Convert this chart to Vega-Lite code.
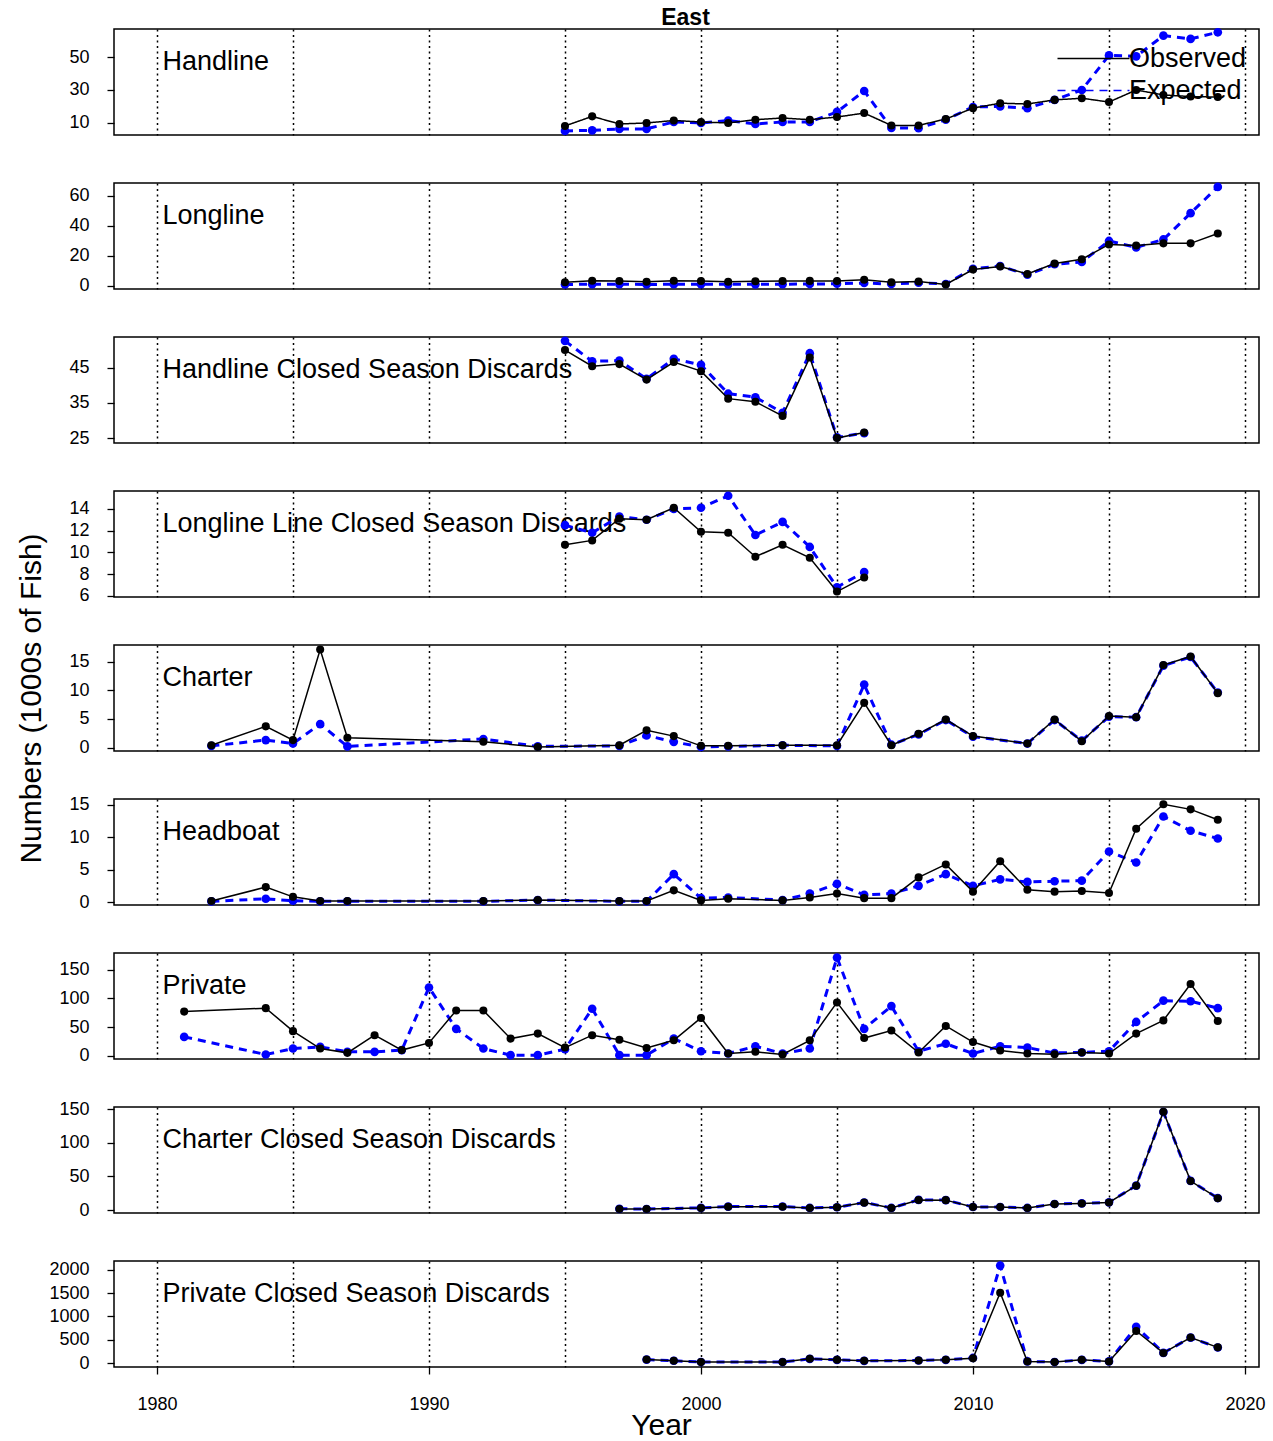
{
  "$schema": "https://vega.github.io/schema/vega-lite/v6.json",
  "background": "white",
  "padding": {"left": 15, "top": 6, "right": 5, "bottom": 5},
  "title": {"text": "East", "fontSize": 23, "fontWeight": "bold", "anchor": "middle", "dx": 45, "offset": -4, "color": "black"},
  "spacing": 48,
  "bounds": "flush",
  "resolve": {"scale": {"color": "independent", "strokeDash": "independent"}, "legend": {"color": "independent", "strokeDash": "independent"}},
  "data": {"values": [
    {"p": "Handline", "year": 1995, "Observed": 8.2, "Expected": 5.2},
    {"p": "Handline", "year": 1996, "Observed": 14, "Expected": 5.5},
    {"p": "Handline", "year": 1997, "Observed": 9.4, "Expected": 6.4},
    {"p": "Handline", "year": 1998, "Observed": 10, "Expected": 6.4},
    {"p": "Handline", "year": 1999, "Observed": 11.5, "Expected": 10.6},
    {"p": "Handline", "year": 2000, "Observed": 10.6, "Expected": 10},
    {"p": "Handline", "year": 2001, "Observed": 10, "Expected": 11.5},
    {"p": "Handline", "year": 2002, "Observed": 12, "Expected": 9.4},
    {"p": "Handline", "year": 2003, "Observed": 13, "Expected": 10.6},
    {"p": "Handline", "year": 2004, "Observed": 12, "Expected": 10.6},
    {"p": "Handline", "year": 2005, "Observed": 13.6, "Expected": 16.7},
    {"p": "Handline", "year": 2006, "Observed": 16, "Expected": 29.4},
    {"p": "Handline", "year": 2007, "Observed": 8.5, "Expected": 7},
    {"p": "Handline", "year": 2008, "Observed": 8.5, "Expected": 6.8},
    {"p": "Handline", "year": 2009, "Observed": 12.4, "Expected": 12},
    {"p": "Handline", "year": 2010, "Observed": 19, "Expected": 19.7},
    {"p": "Handline", "year": 2011, "Observed": 22, "Expected": 20},
    {"p": "Handline", "year": 2012, "Observed": 21.5, "Expected": 19},
    {"p": "Handline", "year": 2013, "Observed": 24, "Expected": 24},
    {"p": "Handline", "year": 2014, "Observed": 25, "Expected": 30},
    {"p": "Handline", "year": 2015, "Observed": 22.7, "Expected": 51},
    {"p": "Handline", "year": 2016, "Observed": 30, "Expected": 50.4},
    {"p": "Handline", "year": 2017, "Observed": 27, "Expected": 63},
    {"p": "Handline", "year": 2018, "Observed": 26, "Expected": 61},
    {"p": "Handline", "year": 2019, "Observed": 25.7, "Expected": 65},

    {"p": "Longline", "year": 1995, "Observed": 2.5, "Expected": 1.0},
    {"p": "Longline", "year": 1996, "Observed": 3.5, "Expected": 1.2},
    {"p": "Longline", "year": 1997, "Observed": 3.3, "Expected": 1.2},
    {"p": "Longline", "year": 1998, "Observed": 2.8, "Expected": 1.0},
    {"p": "Longline", "year": 1999, "Observed": 3.5, "Expected": 1.2},
    {"p": "Longline", "year": 2000, "Observed": 3.3, "Expected": 1.2},
    {"p": "Longline", "year": 2001, "Observed": 2.8, "Expected": 1.1},
    {"p": "Longline", "year": 2002, "Observed": 3.2, "Expected": 1.1},
    {"p": "Longline", "year": 2003, "Observed": 3.3, "Expected": 1.2},
    {"p": "Longline", "year": 2004, "Observed": 3.4, "Expected": 1.3},
    {"p": "Longline", "year": 2005, "Observed": 3.3, "Expected": 1.5},
    {"p": "Longline", "year": 2006, "Observed": 4.2, "Expected": 2.0},
    {"p": "Longline", "year": 2007, "Observed": 2.5, "Expected": 1.3},
    {"p": "Longline", "year": 2008, "Observed": 3.0, "Expected": 2.2},
    {"p": "Longline", "year": 2009, "Observed": 1.0, "Expected": 1.3},
    {"p": "Longline", "year": 2010, "Observed": 11, "Expected": 11.5},
    {"p": "Longline", "year": 2011, "Observed": 13, "Expected": 13.3},
    {"p": "Longline", "year": 2012, "Observed": 8, "Expected": 7.5},
    {"p": "Longline", "year": 2013, "Observed": 15, "Expected": 14.5},
    {"p": "Longline", "year": 2014, "Observed": 17.8, "Expected": 16},
    {"p": "Longline", "year": 2015, "Observed": 27.7, "Expected": 30},
    {"p": "Longline", "year": 2016, "Observed": 27, "Expected": 25.7},
    {"p": "Longline", "year": 2017, "Observed": 28.4, "Expected": 31},
    {"p": "Longline", "year": 2018, "Observed": 28.4, "Expected": 48.5},
    {"p": "Longline", "year": 2019, "Observed": 35, "Expected": 66},

    {"p": "HCSD", "year": 1995, "Observed": 50, "Expected": 52.6},
    {"p": "HCSD", "year": 1996, "Observed": 45.4, "Expected": 46.8},
    {"p": "HCSD", "year": 1997, "Observed": 46, "Expected": 47},
    {"p": "HCSD", "year": 1998, "Observed": 41.6, "Expected": 41.8},
    {"p": "HCSD", "year": 1999, "Observed": 46.6, "Expected": 47.5},
    {"p": "HCSD", "year": 2000, "Observed": 44, "Expected": 45.8},
    {"p": "HCSD", "year": 2001, "Observed": 36.2, "Expected": 37.6},
    {"p": "HCSD", "year": 2002, "Observed": 35.3, "Expected": 36.6},
    {"p": "HCSD", "year": 2003, "Observed": 31.3, "Expected": 32.2},
    {"p": "HCSD", "year": 2004, "Observed": 47.9, "Expected": 49.1},
    {"p": "HCSD", "year": 2005, "Observed": 25, "Expected": 25.2},
    {"p": "HCSD", "year": 2006, "Observed": 26.6, "Expected": 26.4},

    {"p": "LCSD", "year": 1995, "Observed": 10.7, "Expected": 12.5},
    {"p": "LCSD", "year": 1996, "Observed": 11.1, "Expected": 11.8},
    {"p": "LCSD", "year": 1997, "Observed": 13.1, "Expected": 13.3},
    {"p": "LCSD", "year": 1998, "Observed": 13.0, "Expected": 13.0},
    {"p": "LCSD", "year": 1999, "Observed": 14.1, "Expected": 14.0},
    {"p": "LCSD", "year": 2000, "Observed": 11.9, "Expected": 14.1},
    {"p": "LCSD", "year": 2001, "Observed": 11.8, "Expected": 15.2},
    {"p": "LCSD", "year": 2002, "Observed": 9.6, "Expected": 11.6},
    {"p": "LCSD", "year": 2003, "Observed": 10.7, "Expected": 12.8},
    {"p": "LCSD", "year": 2004, "Observed": 9.5, "Expected": 10.5},
    {"p": "LCSD", "year": 2005, "Observed": 6.4, "Expected": 6.8},
    {"p": "LCSD", "year": 2006, "Observed": 7.7, "Expected": 8.2},

    {"p": "Charter", "year": 1982, "Observed": 0.4, "Expected": 0.3},
    {"p": "Charter", "year": 1984, "Observed": 3.7, "Expected": 1.3},
    {"p": "Charter", "year": 1985, "Observed": 1.3, "Expected": 0.7},
    {"p": "Charter", "year": 1986, "Observed": 17.1, "Expected": 4.1},
    {"p": "Charter", "year": 1987, "Observed": 1.7, "Expected": 0.2},
    {"p": "Charter", "year": 1992, "Observed": 1.0, "Expected": 1.5},
    {"p": "Charter", "year": 1994, "Observed": 0.1, "Expected": 0.2},
    {"p": "Charter", "year": 1997, "Observed": 0.4, "Expected": 0.3},
    {"p": "Charter", "year": 1998, "Observed": 3.0, "Expected": 2.1},
    {"p": "Charter", "year": 1999, "Observed": 2.0, "Expected": 1.0},
    {"p": "Charter", "year": 2000, "Observed": 0.3, "Expected": 0.1},
    {"p": "Charter", "year": 2001, "Observed": 0.3, "Expected": 0.2},
    {"p": "Charter", "year": 2003, "Observed": 0.4, "Expected": 0.4},
    {"p": "Charter", "year": 2005, "Observed": 0.4, "Expected": 0.3},
    {"p": "Charter", "year": 2006, "Observed": 7.8, "Expected": 11.0},
    {"p": "Charter", "year": 2007, "Observed": 0.4, "Expected": 0.5},
    {"p": "Charter", "year": 2008, "Observed": 2.4, "Expected": 2.3},
    {"p": "Charter", "year": 2009, "Observed": 4.9, "Expected": 4.8},
    {"p": "Charter", "year": 2010, "Observed": 2.0, "Expected": 1.9},
    {"p": "Charter", "year": 2012, "Observed": 0.7, "Expected": 0.7},
    {"p": "Charter", "year": 2013, "Observed": 4.9, "Expected": 4.8},
    {"p": "Charter", "year": 2014, "Observed": 1.1, "Expected": 1.2},
    {"p": "Charter", "year": 2015, "Observed": 5.5, "Expected": 5.4},
    {"p": "Charter", "year": 2016, "Observed": 5.3, "Expected": 5.3},
    {"p": "Charter", "year": 2017, "Observed": 14.4, "Expected": 14.3},
    {"p": "Charter", "year": 2018, "Observed": 15.9, "Expected": 15.8},
    {"p": "Charter", "year": 2019, "Observed": 9.5, "Expected": 9.6},

    {"p": "Headboat", "year": 1982, "Observed": 0.15, "Expected": 0.1},
    {"p": "Headboat", "year": 1984, "Observed": 2.3, "Expected": 0.5},
    {"p": "Headboat", "year": 1985, "Observed": 0.8, "Expected": 0.2},
    {"p": "Headboat", "year": 1986, "Observed": 0.15, "Expected": 0.1},
    {"p": "Headboat", "year": 1987, "Observed": 0.15, "Expected": 0.1},
    {"p": "Headboat", "year": 1992, "Observed": 0.15, "Expected": 0.1},
    {"p": "Headboat", "year": 1994, "Observed": 0.3, "Expected": 0.3},
    {"p": "Headboat", "year": 1997, "Observed": 0.15, "Expected": 0.1},
    {"p": "Headboat", "year": 1998, "Observed": 0.15, "Expected": 0.1},
    {"p": "Headboat", "year": 1999, "Observed": 1.8, "Expected": 4.3},
    {"p": "Headboat", "year": 2000, "Observed": 0.25, "Expected": 0.6},
    {"p": "Headboat", "year": 2001, "Observed": 0.5, "Expected": 0.7},
    {"p": "Headboat", "year": 2003, "Observed": 0.25, "Expected": 0.3},
    {"p": "Headboat", "year": 2004, "Observed": 0.7, "Expected": 1.3},
    {"p": "Headboat", "year": 2005, "Observed": 1.3, "Expected": 2.8},
    {"p": "Headboat", "year": 2006, "Observed": 0.6, "Expected": 1.1},
    {"p": "Headboat", "year": 2007, "Observed": 0.6, "Expected": 1.3},
    {"p": "Headboat", "year": 2008, "Observed": 3.8, "Expected": 2.5},
    {"p": "Headboat", "year": 2009, "Observed": 5.8, "Expected": 4.3},
    {"p": "Headboat", "year": 2010, "Observed": 1.6, "Expected": 2.5},
    {"p": "Headboat", "year": 2011, "Observed": 6.3, "Expected": 3.5},
    {"p": "Headboat", "year": 2012, "Observed": 1.9, "Expected": 3.1},
    {"p": "Headboat", "year": 2013, "Observed": 1.6, "Expected": 3.2},
    {"p": "Headboat", "year": 2014, "Observed": 1.7, "Expected": 3.3},
    {"p": "Headboat", "year": 2015, "Observed": 1.4, "Expected": 7.8},
    {"p": "Headboat", "year": 2016, "Observed": 11.3, "Expected": 6.1},
    {"p": "Headboat", "year": 2017, "Observed": 15.1, "Expected": 13.2},
    {"p": "Headboat", "year": 2018, "Observed": 14.3, "Expected": 11.0},
    {"p": "Headboat", "year": 2019, "Observed": 12.7, "Expected": 9.8},

    {"p": "Private", "year": 1981, "Observed": 77, "Expected": 33},
    {"p": "Private", "year": 1984, "Observed": 83, "Expected": 2.3},
    {"p": "Private", "year": 1985, "Observed": 43, "Expected": 12.7},
    {"p": "Private", "year": 1986, "Observed": 12.7, "Expected": 15.6},
    {"p": "Private", "year": 1987, "Observed": 5.2, "Expected": 7},
    {"p": "Private", "year": 1988, "Observed": 36, "Expected": 7},
    {"p": "Private", "year": 1989, "Observed": 10, "Expected": 10},
    {"p": "Private", "year": 1990, "Observed": 22.5, "Expected": 119},
    {"p": "Private", "year": 1991, "Observed": 79, "Expected": 47},
    {"p": "Private", "year": 1992, "Observed": 79, "Expected": 12.7},
    {"p": "Private", "year": 1993, "Observed": 30, "Expected": 1.2},
    {"p": "Private", "year": 1994, "Observed": 38.7, "Expected": 1.2},
    {"p": "Private", "year": 1995, "Observed": 14.4, "Expected": 11.5},
    {"p": "Private", "year": 1996, "Observed": 36, "Expected": 82},
    {"p": "Private", "year": 1997, "Observed": 28, "Expected": 1.2},
    {"p": "Private", "year": 1998, "Observed": 13.8, "Expected": 1.2},
    {"p": "Private", "year": 1999, "Observed": 27, "Expected": 30},
    {"p": "Private", "year": 2000, "Observed": 66, "Expected": 8},
    {"p": "Private", "year": 2001, "Observed": 4, "Expected": 4},
    {"p": "Private", "year": 2002, "Observed": 7, "Expected": 16.7},
    {"p": "Private", "year": 2003, "Observed": 2.3, "Expected": 4},
    {"p": "Private", "year": 2004, "Observed": 27, "Expected": 12.7},
    {"p": "Private", "year": 2005, "Observed": 93, "Expected": 171},
    {"p": "Private", "year": 2006, "Observed": 31, "Expected": 47},
    {"p": "Private", "year": 2007, "Observed": 44, "Expected": 86.6},
    {"p": "Private", "year": 2008, "Observed": 5.8, "Expected": 8},
    {"p": "Private", "year": 2009, "Observed": 52, "Expected": 21},
    {"p": "Private", "year": 2010, "Observed": 24, "Expected": 4},
    {"p": "Private", "year": 2011, "Observed": 9.2, "Expected": 16.7},
    {"p": "Private", "year": 2012, "Observed": 4, "Expected": 14.4},
    {"p": "Private", "year": 2013, "Observed": 2.9, "Expected": 5},
    {"p": "Private", "year": 2014, "Observed": 5.8, "Expected": 6},
    {"p": "Private", "year": 2015, "Observed": 4, "Expected": 8},
    {"p": "Private", "year": 2016, "Observed": 38.7, "Expected": 59},
    {"p": "Private", "year": 2017, "Observed": 61.7, "Expected": 96},
    {"p": "Private", "year": 2018, "Observed": 125, "Expected": 95},
    {"p": "Private", "year": 2019, "Observed": 60.6, "Expected": 83},

    {"p": "CCSD", "year": 1997, "Observed": 1.5, "Expected": 1.8},
    {"p": "CCSD", "year": 1998, "Observed": 1.5, "Expected": 1.6},
    {"p": "CCSD", "year": 2000, "Observed": 3, "Expected": 3.2},
    {"p": "CCSD", "year": 2001, "Observed": 5, "Expected": 5.1},
    {"p": "CCSD", "year": 2003, "Observed": 5, "Expected": 5.2},
    {"p": "CCSD", "year": 2004, "Observed": 3, "Expected": 3.1},
    {"p": "CCSD", "year": 2005, "Observed": 4, "Expected": 4.1},
    {"p": "CCSD", "year": 2006, "Observed": 11, "Expected": 11.2},
    {"p": "CCSD", "year": 2007, "Observed": 3, "Expected": 3.1},
    {"p": "CCSD", "year": 2008, "Observed": 15, "Expected": 15.1},
    {"p": "CCSD", "year": 2009, "Observed": 14.7, "Expected": 14.8},
    {"p": "CCSD", "year": 2010, "Observed": 4.4, "Expected": 4.5},
    {"p": "CCSD", "year": 2011, "Observed": 4.4, "Expected": 4.5},
    {"p": "CCSD", "year": 2012, "Observed": 3, "Expected": 3.1},
    {"p": "CCSD", "year": 2013, "Observed": 8.8, "Expected": 8.9},
    {"p": "CCSD", "year": 2014, "Observed": 9.8, "Expected": 9.9},
    {"p": "CCSD", "year": 2015, "Observed": 11.3, "Expected": 11.4},
    {"p": "CCSD", "year": 2016, "Observed": 36, "Expected": 36.3},
    {"p": "CCSD", "year": 2017, "Observed": 146, "Expected": 145.5},
    {"p": "CCSD", "year": 2018, "Observed": 43, "Expected": 43.3},
    {"p": "CCSD", "year": 2019, "Observed": 17.6, "Expected": 17.8},

    {"p": "PCSD", "year": 1998, "Observed": 77, "Expected": 75},
    {"p": "PCSD", "year": 1999, "Observed": 49, "Expected": 50},
    {"p": "PCSD", "year": 2000, "Observed": 21, "Expected": 22},
    {"p": "PCSD", "year": 2003, "Observed": 21, "Expected": 22},
    {"p": "PCSD", "year": 2004, "Observed": 91, "Expected": 90},
    {"p": "PCSD", "year": 2005, "Observed": 70, "Expected": 70},
    {"p": "PCSD", "year": 2006, "Observed": 49, "Expected": 48},
    {"p": "PCSD", "year": 2008, "Observed": 56, "Expected": 55},
    {"p": "PCSD", "year": 2009, "Observed": 70, "Expected": 70},
    {"p": "PCSD", "year": 2010, "Observed": 105, "Expected": 110},
    {"p": "PCSD", "year": 2011, "Observed": 1510, "Expected": 2090},
    {"p": "PCSD", "year": 2012, "Observed": 35, "Expected": 36},
    {"p": "PCSD", "year": 2013, "Observed": 21, "Expected": 22},
    {"p": "PCSD", "year": 2014, "Observed": 70, "Expected": 68},
    {"p": "PCSD", "year": 2015, "Observed": 35, "Expected": 36},
    {"p": "PCSD", "year": 2016, "Observed": 688, "Expected": 780},
    {"p": "PCSD", "year": 2017, "Observed": 218, "Expected": 220},
    {"p": "PCSD", "year": 2018, "Observed": 548, "Expected": 545},
    {"p": "PCSD", "year": 2019, "Observed": 337, "Expected": 335}
  ]},
  "vconcat": [
    {
      "width": 1145, "height": 106,
      "transform": [{"filter": "datum.p === 'Handline'"}, {"fold": ["Expected", "Observed"], "as": ["series", "value"]}],
      "encoding": {
        "x": {"field": "year", "type": "quantitative", "scale": {"domain": [1978.42, 2020.515], "nice": false, "zero": false},
              "axis": {"values": [1980, 1985, 1990, 1995, 2000, 2005, 2010, 2015, 2020], "grid": true, "gridDash": [2, 3.5], "gridColor": "black", "gridWidth": 1.5, "ticks": false, "labels": false, "domain": false, "title": null}},
        "y": {"field": "value", "type": "quantitative", "scale": {"domain": [2.7, 67], "nice": false, "zero": false},
              "axis": {"values": [10, 30, 50], "title": "Handline"}},
        "color": {"field": "series", "type": "nominal", "scale": {"domain": ["Observed", "Expected"], "range": ["black", "#0000ff"]},
                  "legend": {"orient": "none", "legendX": 990, "legendY": 16, "title": null, "labelFontSize": 27, "labelColor": "black", "symbolType": "M-5,0H1", "symbolSize": 576, "symbolStrokeWidth": 1.5, "rowPadding": 4, "labelOffset": -2, "padding": 0}}
      },
      "layer": [
        {"transform": [{"filter": "datum.series === 'Expected'"}], "mark": {"type": "line", "strokeWidth": 3},
         "encoding": {"strokeDash": {"field": "series", "type": "nominal", "scale": {"domain": ["Observed", "Expected"], "range": [[1, 0], [8, 6]]}, "legend": {"orient": "none", "legendX": 990, "legendY": 16, "title": null, "labelFontSize": 27, "labelColor": "black", "symbolType": "M-5,0H1", "symbolSize": 576, "symbolStrokeWidth": 1.5, "rowPadding": 4, "labelOffset": -2, "padding": 0}}}},
        {"transform": [{"filter": "datum.series === 'Expected'"}], "mark": {"type": "point", "filled": true, "size": 75, "opacity": 1}},
        {"transform": [{"filter": "datum.series === 'Observed'"}], "mark": {"type": "line", "strokeWidth": 1.5},
         "encoding": {"strokeDash": {"field": "series", "type": "nominal", "scale": {"domain": ["Observed", "Expected"], "range": [[1, 0], [8, 6]]}, "legend": {"orient": "none", "legendX": 990, "legendY": 16, "title": null, "labelFontSize": 27, "labelColor": "black", "symbolType": "M-5,0H1", "symbolSize": 576, "symbolStrokeWidth": 1.5, "rowPadding": 4, "labelOffset": -2, "padding": 0}}}},
        {"transform": [{"filter": "datum.series === 'Observed'"}], "mark": {"type": "point", "filled": true, "size": 65, "opacity": 1}}
      ]
    },
    {
      "width": 1145, "height": 106,
      "transform": [{"filter": "datum.p === 'Longline'"}, {"fold": ["Expected", "Observed"], "as": ["series", "value"]}],
      "encoding": {
        "x": {"field": "year", "type": "quantitative", "scale": {"domain": [1978.42, 2020.515], "nice": false, "zero": false},
              "axis": {"values": [1980, 1985, 1990, 1995, 2000, 2005, 2010, 2015, 2020], "grid": true, "gridDash": [2, 3.5], "gridColor": "black", "gridWidth": 1.5, "ticks": false, "labels": false, "domain": false, "title": null}},
        "y": {"field": "value", "type": "quantitative", "scale": {"domain": [-2, 68.6], "nice": false, "zero": false},
              "axis": {"values": [0, 20, 40, 60], "title": "Longline"}},
        "color": {"field": "series", "type": "nominal", "scale": {"domain": ["Observed", "Expected"], "range": ["black", "#0000ff"]}, "legend": null}
      },
      "layer": [
        {"transform": [{"filter": "datum.series === 'Expected'"}], "mark": {"type": "line", "strokeWidth": 3, "strokeDash": [8, 6]}},
        {"transform": [{"filter": "datum.series === 'Expected'"}], "mark": {"type": "point", "filled": true, "size": 75, "opacity": 1}},
        {"transform": [{"filter": "datum.series === 'Observed'"}], "mark": {"type": "line", "strokeWidth": 1.5}},
        {"transform": [{"filter": "datum.series === 'Observed'"}], "mark": {"type": "point", "filled": true, "size": 65, "opacity": 1}}
      ]
    },
    {
      "width": 1145, "height": 106,
      "transform": [{"filter": "datum.p === 'HCSD'"}, {"fold": ["Expected", "Observed"], "as": ["series", "value"]}],
      "encoding": {
        "x": {"field": "year", "type": "quantitative", "scale": {"domain": [1978.42, 2020.515], "nice": false, "zero": false},
              "axis": {"values": [1980, 1985, 1990, 1995, 2000, 2005, 2010, 2015, 2020], "grid": true, "gridDash": [2, 3.5], "gridColor": "black", "gridWidth": 1.5, "ticks": false, "labels": false, "domain": false, "title": null}},
        "y": {"field": "value", "type": "quantitative", "scale": {"domain": [23.6, 53.7], "nice": false, "zero": false},
              "axis": {"values": [25, 35, 45], "title": "Handline Closed Season Discards"}},
        "color": {"field": "series", "type": "nominal", "scale": {"domain": ["Observed", "Expected"], "range": ["black", "#0000ff"]}, "legend": null}
      },
      "layer": [
        {"transform": [{"filter": "datum.series === 'Expected'"}], "mark": {"type": "line", "strokeWidth": 3, "strokeDash": [8, 6]}},
        {"transform": [{"filter": "datum.series === 'Expected'"}], "mark": {"type": "point", "filled": true, "size": 75, "opacity": 1}},
        {"transform": [{"filter": "datum.series === 'Observed'"}], "mark": {"type": "line", "strokeWidth": 1.5}},
        {"transform": [{"filter": "datum.series === 'Observed'"}], "mark": {"type": "point", "filled": true, "size": 65, "opacity": 1}}
      ]
    },
    {
      "width": 1145, "height": 106,
      "transform": [{"filter": "datum.p === 'LCSD'"}, {"fold": ["Expected", "Observed"], "as": ["series", "value"]}],
      "encoding": {
        "x": {"field": "year", "type": "quantitative", "scale": {"domain": [1978.42, 2020.515], "nice": false, "zero": false},
              "axis": {"values": [1980, 1985, 1990, 1995, 2000, 2005, 2010, 2015, 2020], "grid": true, "gridDash": [2, 3.5], "gridColor": "black", "gridWidth": 1.5, "ticks": false, "labels": false, "domain": false, "title": null}},
        "y": {"field": "value", "type": "quantitative", "scale": {"domain": [5.9, 15.64], "nice": false, "zero": false},
              "axis": {"values": [6, 8, 10, 12, 14], "title": "Longline Line Closed Season Discards"}},
        "color": {"field": "series", "type": "nominal", "scale": {"domain": ["Observed", "Expected"], "range": ["black", "#0000ff"]}, "legend": null}
      },
      "layer": [
        {"transform": [{"filter": "datum.series === 'Expected'"}], "mark": {"type": "line", "strokeWidth": 3, "strokeDash": [8, 6]}},
        {"transform": [{"filter": "datum.series === 'Expected'"}], "mark": {"type": "point", "filled": true, "size": 75, "opacity": 1}},
        {"transform": [{"filter": "datum.series === 'Observed'"}], "mark": {"type": "line", "strokeWidth": 1.5}},
        {"transform": [{"filter": "datum.series === 'Observed'"}], "mark": {"type": "point", "filled": true, "size": 65, "opacity": 1}}
      ]
    },
    {
      "width": 1145, "height": 106,
      "transform": [{"filter": "datum.p === 'Charter'"}, {"fold": ["Expected", "Observed"], "as": ["series", "value"]}],
      "encoding": {
        "x": {"field": "year", "type": "quantitative", "scale": {"domain": [1978.42, 2020.515], "nice": false, "zero": false},
              "axis": {"values": [1980, 1985, 1990, 1995, 2000, 2005, 2010, 2015, 2020], "grid": true, "gridDash": [2, 3.5], "gridColor": "black", "gridWidth": 1.5, "ticks": false, "labels": false, "domain": false,
                       "title": "Numbers (1000s of Fish)", "titleFontSize": 30, "titleFontWeight": "normal", "titleX": -83, "titleY": -53, "titleAngle": -90, "titleAlign": "center", "titleBaseline": "middle"}},
        "y": {"field": "value", "type": "quantitative", "scale": {"domain": [-0.6, 17.9], "nice": false, "zero": false},
              "axis": {"values": [0, 5, 10, 15], "title": "Charter"}},
        "color": {"field": "series", "type": "nominal", "scale": {"domain": ["Observed", "Expected"], "range": ["black", "#0000ff"]}, "legend": null}
      },
      "layer": [
        {"transform": [{"filter": "datum.series === 'Expected'"}], "mark": {"type": "line", "strokeWidth": 3, "strokeDash": [8, 6]}},
        {"transform": [{"filter": "datum.series === 'Expected'"}], "mark": {"type": "point", "filled": true, "size": 75, "opacity": 1}},
        {"transform": [{"filter": "datum.series === 'Observed'"}], "mark": {"type": "line", "strokeWidth": 1.5}},
        {"transform": [{"filter": "datum.series === 'Observed'"}], "mark": {"type": "point", "filled": true, "size": 65, "opacity": 1}}
      ]
    },
    {
      "width": 1145, "height": 106,
      "transform": [{"filter": "datum.p === 'Headboat'"}, {"fold": ["Expected", "Observed"], "as": ["series", "value"]}],
      "encoding": {
        "x": {"field": "year", "type": "quantitative", "scale": {"domain": [1978.42, 2020.515], "nice": false, "zero": false},
              "axis": {"values": [1980, 1985, 1990, 1995, 2000, 2005, 2010, 2015, 2020], "grid": true, "gridDash": [2, 3.5], "gridColor": "black", "gridWidth": 1.5, "ticks": false, "labels": false, "domain": false, "title": null}},
        "y": {"field": "value", "type": "quantitative", "scale": {"domain": [-0.46, 15.9], "nice": false, "zero": false},
              "axis": {"values": [0, 5, 10, 15], "title": "Headboat"}},
        "color": {"field": "series", "type": "nominal", "scale": {"domain": ["Observed", "Expected"], "range": ["black", "#0000ff"]}, "legend": null}
      },
      "layer": [
        {"transform": [{"filter": "datum.series === 'Expected'"}], "mark": {"type": "line", "strokeWidth": 3, "strokeDash": [8, 6]}},
        {"transform": [{"filter": "datum.series === 'Expected'"}], "mark": {"type": "point", "filled": true, "size": 75, "opacity": 1}},
        {"transform": [{"filter": "datum.series === 'Observed'"}], "mark": {"type": "line", "strokeWidth": 1.5}},
        {"transform": [{"filter": "datum.series === 'Observed'"}], "mark": {"type": "point", "filled": true, "size": 65, "opacity": 1}}
      ]
    },
    {
      "width": 1145, "height": 106,
      "transform": [{"filter": "datum.p === 'Private'"}, {"fold": ["Expected", "Observed"], "as": ["series", "value"]}],
      "encoding": {
        "x": {"field": "year", "type": "quantitative", "scale": {"domain": [1978.42, 2020.515], "nice": false, "zero": false},
              "axis": {"values": [1980, 1985, 1990, 1995, 2000, 2005, 2010, 2015, 2020], "grid": true, "gridDash": [2, 3.5], "gridColor": "black", "gridWidth": 1.5, "ticks": false, "labels": false, "domain": false, "title": null}},
        "y": {"field": "value", "type": "quantitative", "scale": {"domain": [-5.5, 179], "nice": false, "zero": false},
              "axis": {"values": [0, 50, 100, 150], "title": "Private"}},
        "color": {"field": "series", "type": "nominal", "scale": {"domain": ["Observed", "Expected"], "range": ["black", "#0000ff"]}, "legend": null}
      },
      "layer": [
        {"transform": [{"filter": "datum.series === 'Expected'"}], "mark": {"type": "line", "strokeWidth": 3, "strokeDash": [8, 6]}},
        {"transform": [{"filter": "datum.series === 'Expected'"}], "mark": {"type": "point", "filled": true, "size": 75, "opacity": 1}},
        {"transform": [{"filter": "datum.series === 'Observed'"}], "mark": {"type": "line", "strokeWidth": 1.5}},
        {"transform": [{"filter": "datum.series === 'Observed'"}], "mark": {"type": "point", "filled": true, "size": 65, "opacity": 1}}
      ]
    },
    {
      "width": 1145, "height": 106,
      "transform": [{"filter": "datum.p === 'CCSD'"}, {"fold": ["Expected", "Observed"], "as": ["series", "value"]}],
      "encoding": {
        "x": {"field": "year", "type": "quantitative", "scale": {"domain": [1978.42, 2020.515], "nice": false, "zero": false},
              "axis": {"values": [1980, 1985, 1990, 1995, 2000, 2005, 2010, 2015, 2020], "grid": true, "gridDash": [2, 3.5], "gridColor": "black", "gridWidth": 1.5, "ticks": false, "labels": false, "domain": false, "title": null}},
        "y": {"field": "value", "type": "quantitative", "scale": {"domain": [-4.4, 153], "nice": false, "zero": false},
              "axis": {"values": [0, 50, 100, 150], "title": "Charter Closed Season Discards"}},
        "color": {"field": "series", "type": "nominal", "scale": {"domain": ["Observed", "Expected"], "range": ["black", "#0000ff"]}, "legend": null}
      },
      "layer": [
        {"transform": [{"filter": "datum.series === 'Expected'"}], "mark": {"type": "line", "strokeWidth": 3, "strokeDash": [8, 6]}},
        {"transform": [{"filter": "datum.series === 'Expected'"}], "mark": {"type": "point", "filled": true, "size": 75, "opacity": 1}},
        {"transform": [{"filter": "datum.series === 'Observed'"}], "mark": {"type": "line", "strokeWidth": 1.5}},
        {"transform": [{"filter": "datum.series === 'Observed'"}], "mark": {"type": "point", "filled": true, "size": 65, "opacity": 1}}
      ]
    },
    {
      "width": 1145, "height": 106,
      "transform": [{"filter": "datum.p === 'PCSD'"}, {"fold": ["Expected", "Observed"], "as": ["series", "value"]}],
      "encoding": {
        "x": {"field": "year", "type": "quantitative", "scale": {"domain": [1978.42, 2020.515], "nice": false, "zero": false},
              "axis": {"values": [1980, 1985, 1990, 1995, 2000, 2005, 2010, 2015, 2020], "grid": true, "gridDash": [2, 3.5], "gridColor": "black", "gridWidth": 1.5, "domain": false,
                       "format": "d", "labelExpr": "datum.value % 10 === 0 ? datum.label : ''", "labelOverlap": false, "labelFlush": false,
                       "tickOpacity": {"condition": {"test": "datum.value % 10 === 0", "value": 1}, "value": 0},
                       "tickSize": 7, "labelPadding": 21, "labelFontSize": 18,
                       "title": "Year", "titleFontSize": 30, "titleFontWeight": "normal", "titlePadding": -3, "titleX": 547}},
        "y": {"field": "value", "type": "quantitative", "scale": {"domain": [-84, 2189], "nice": false, "zero": false},
              "axis": {"values": [0, 500, 1000, 1500, 2000], "format": "d", "title": "Private Closed Season Discards"}},
        "color": {"field": "series", "type": "nominal", "scale": {"domain": ["Observed", "Expected"], "range": ["black", "#0000ff"]}, "legend": null}
      },
      "layer": [
        {"transform": [{"filter": "datum.series === 'Expected'"}], "mark": {"type": "line", "strokeWidth": 3, "strokeDash": [8, 6]}},
        {"transform": [{"filter": "datum.series === 'Expected'"}], "mark": {"type": "point", "filled": true, "size": 75, "opacity": 1}},
        {"transform": [{"filter": "datum.series === 'Observed'"}], "mark": {"type": "line", "strokeWidth": 1.5}},
        {"transform": [{"filter": "datum.series === 'Observed'"}], "mark": {"type": "point", "filled": true, "size": 65, "opacity": 1}}
      ]
    }
  ],
  "config": {
    "font": "Liberation Sans",
    "view": {"stroke": "black", "strokeWidth": 1.5},
    "axis": {"labelColor": "black", "tickColor": "black", "titleColor": "black", "labelFontSize": 18, "domain": false, "grid": false, "tickSize": 7, "tickWidth": 1.3, "labelPadding": 13, "titleFontWeight": "normal"},
    "axisY": {"labelPadding": 18, "titleX": 48, "titleY": 32, "titleAngle": 0, "titleAlign": "left", "titleBaseline": "middle", "titleFontSize": 27, "titleFontWeight": "normal"},
    "title": {"color": "black"},
    "legend": {"labelColor": "black"}
  }
}
